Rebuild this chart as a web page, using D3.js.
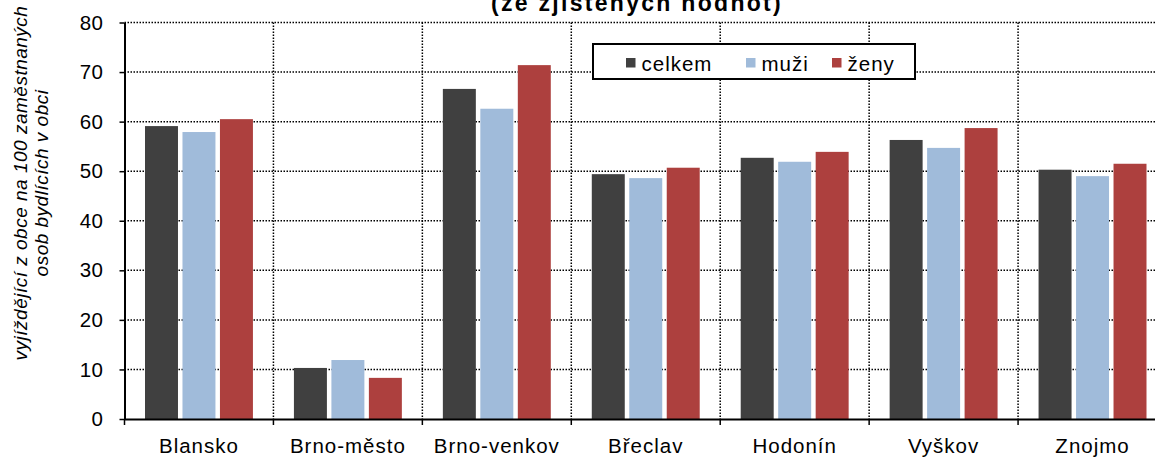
<!DOCTYPE html>
<html>
<head>
<meta charset="utf-8">
<script src="https://cdn.jsdelivr.net/npm/d3@7"></script>
<style>
  html, body { margin: 0; padding: 0; background: #fff; }
  svg { display: block; font-family: Arial, "Liberation Sans", sans-serif; }
</style>
</head>
<body>
<svg id="chart" width="1155" height="457"></svg>
<script>
const categories = ["Blansko", "Brno-město", "Brno-venkov", "Břeclav", "Hodonín", "Vyškov", "Znojmo"];
const seriesNames = ["celkem", "muži", "ženy"];
const celkem = [59.1, 10.3, 66.6, 49.4, 52.7, 56.3, 50.3];
const muzi   = [57.9, 11.9, 62.6, 48.6, 51.9, 54.7, 49.0];
const zeny   = [60.5, 8.3, 71.4, 50.7, 53.9, 58.7, 51.5];
const yTicks = [0, 10, 20, 30, 40, 50, 60, 70, 80];
const colors = ["#404040", "#A0BBDA", "#AD403E"];
const titleText = "(ze zjištěných hodnot)";
const yLabelLines = ["vyjíždějící z obce na 100 zaměstnaných", "osob bydlících v obci"];

const seriesValues = [celkem, muzi, zeny];

const svg = d3.select("#chart");
const pLeft = 124.5, pRight = 1167, pTop = 22.5, pBottom = 419;

const x = d3.scaleBand().domain(categories).range([pLeft, pRight]).paddingInner(0).paddingOuter(0);
const xs = d3.scaleBand().domain(seriesNames).range([0, x.bandwidth()]).paddingInner(0.12).paddingOuter(0.547);
const y = d3.scaleLinear().domain([0, 80]).range([pBottom, pTop]);

// gridlines (horizontal)
svg.append("g").selectAll("line").data(yTicks.filter(d => d > 0)).join("line")
  .attr("x1", pLeft).attr("x2", 1155)
  .attr("y1", d => y(d)).attr("y2", d => y(d))
  .attr("stroke", "#000").attr("stroke-width", 1.5)
  .attr("stroke-dasharray", "1.5,1.5");

// gridlines (vertical at category boundaries)
const boundaries = categories.slice(1);
svg.append("g").selectAll("line").data(boundaries).join("line")
  .attr("x1", d => x(d)).attr("x2", d => x(d))
  .attr("y1", pTop).attr("y2", pBottom)
  .attr("stroke", "#000").attr("stroke-width", 1.5)
  .attr("stroke-dasharray", "1.5,1.5");

// bars
const gBars = svg.append("g");
seriesNames.forEach((s, si) => {
  gBars.append("g").selectAll("rect").data(categories).join("rect")
    .attr("x", (c) => x(c) + xs(s))
    .attr("width", xs.bandwidth())
    .attr("y", (c, i) => y(seriesValues[si][i]))
    .attr("height", (c, i) => y(0) - y(seriesValues[si][i]))
    .attr("fill", colors[si]);
});

// y axis
const yAxis = d3.axisLeft(y).tickValues(yTicks).tickSize(5).tickPadding(16).tickSizeOuter(0);
const gy = svg.append("g").attr("transform", `translate(${pLeft},0)`).call(yAxis);
gy.select(".domain").attr("stroke", "#000").attr("stroke-width", 2);
gy.selectAll(".tick line").attr("stroke", "#000").attr("stroke-width", 1.5);
gy.selectAll(".tick text").attr("font-size", "20.5px").attr("fill", "#000")
  .attr("font-family", "Arial, 'Liberation Sans', sans-serif").attr("letter-spacing", "0.5px");

// x axis
const xAxis = d3.axisBottom(x).tickSize(0).tickSizeOuter(0);
const gx = svg.append("g").attr("transform", `translate(0,${pBottom})`).call(xAxis);
gx.select(".domain").attr("stroke", "#000").attr("stroke-width", 2);
gx.selectAll(".tick text").attr("y", 34).attr("dy", 0)
  .attr("font-size", "20.5px").attr("fill", "#000")
  .attr("font-family", "Arial, 'Liberation Sans', sans-serif").attr("letter-spacing", "1px");
// boundary ticks
gx.append("g").selectAll("line").data(categories).join("line")
  .attr("x1", d => x(d)).attr("x2", d => x(d))
  .attr("y1", 0).attr("y2", 6)
  .attr("stroke", "#000").attr("stroke-width", 1.5);

// title (partly cropped, as in the reference)
svg.append("text").attr("x", 637).attr("y", 10.5)
  .attr("text-anchor", "middle").attr("font-weight", "bold")
  .attr("font-size", "23px").attr("letter-spacing", "2.3px").attr("fill", "#000")
  .text(titleText);

// y label
const yl = svg.append("g").attr("transform", "rotate(-90)");
yLabelLines.forEach((t, i) => {
  yl.append("text").attr("x", -183).attr("y", 27 + i * 21)
    .attr("text-anchor", "middle").attr("font-style", "italic")
    .attr("font-size", "19px").attr("fill", "#000").attr("letter-spacing", "0.5px")
    .text(t);
});

// legend
const lg = svg.append("g");
lg.append("rect").attr("x", 593).attr("y", 44).attr("width", 322).attr("height", 35)
  .attr("fill", "#fff").attr("stroke", "#000").attr("stroke-width", 2);
const legX = [626, 746, 832];
seriesNames.forEach((s, i) => {
  lg.append("rect").attr("x", legX[i]).attr("y", 58).attr("width", 9.5).attr("height", 9.5).attr("fill", colors[i]);
  lg.append("text").attr("x", legX[i] + 15.5).attr("y", 70.5)
    .attr("font-size", "20.5px").attr("letter-spacing", "1px").attr("fill", "#000")
    .text(s);
});
</script>
</body>
</html>
